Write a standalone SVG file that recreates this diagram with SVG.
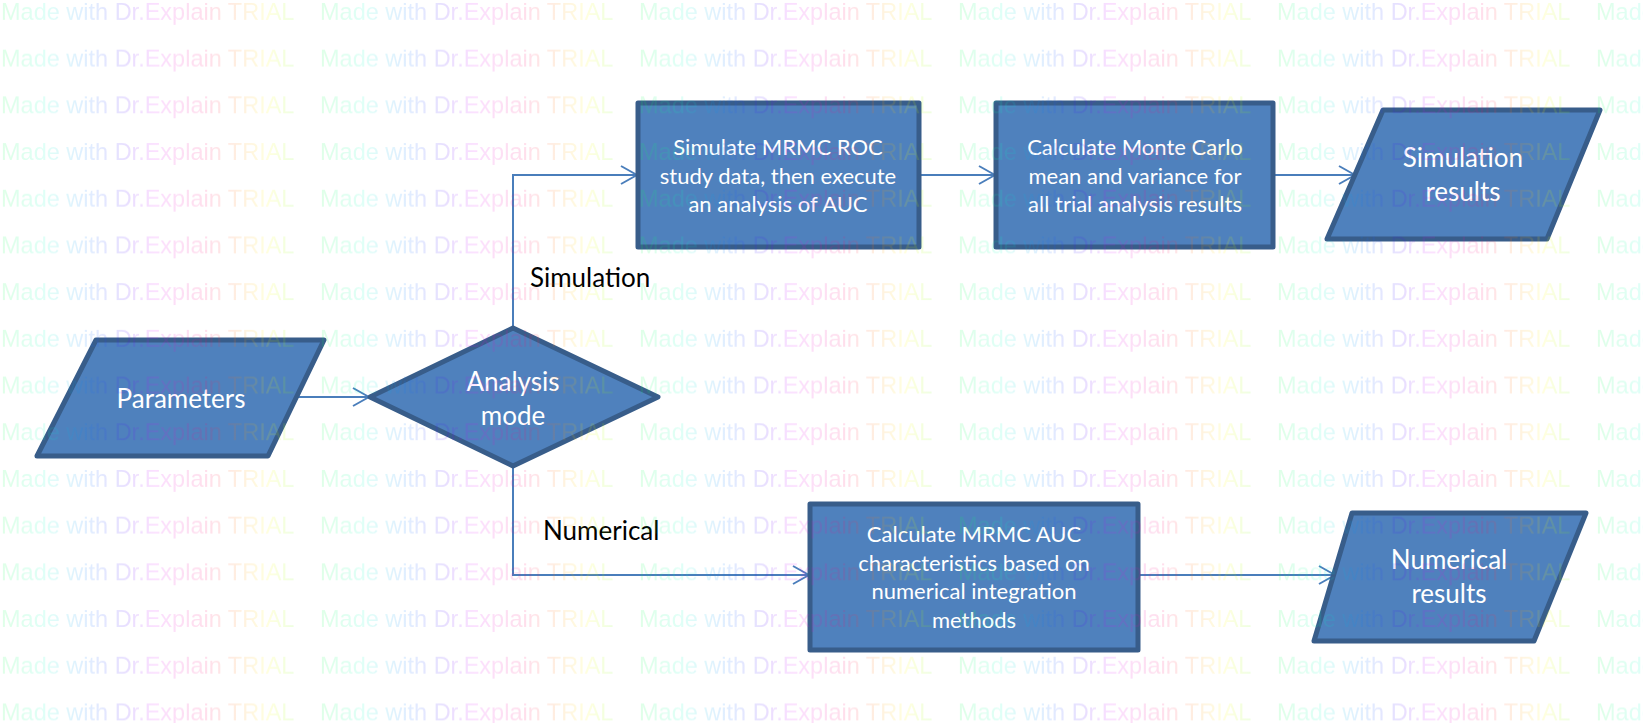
<svg xmlns="http://www.w3.org/2000/svg" width="1643" height="723" viewBox="0 0 1643 723">
<defs>
<style>
.node{fill:#4F81BD;stroke:#385D8A;stroke-width:5;stroke-linejoin:round}
.lbl{font-family:Lato,"Liberation Sans",sans-serif;fill:#FFFFFF;text-anchor:middle}
.big{font-size:26px}
.small{font-size:22px}
.edge{fill:none;stroke:#4A7EBB;stroke-width:2}
.elbl{font-family:Lato,"Liberation Sans",sans-serif;font-size:26px;fill:#000000}
.wm{font-family:"Liberation Sans",Arial,sans-serif;font-size:23.5px;fill-opacity:0.125}
</style>
<marker id="arr" viewBox="0 0 18 20" refX="17" refY="10" markerWidth="18" markerHeight="20" markerUnits="userSpaceOnUse" orient="auto">
<path d="M1,1 L17,10 L1,19" fill="none" stroke="#4A7EBB" stroke-width="2"/>
</marker>
<linearGradient id="rb" gradientUnits="userSpaceOnUse" x1="0" y1="0" x2="298" y2="0">
<stop offset="0" stop-color="#00FF40"/>
<stop offset="0.15" stop-color="#00FFC0"/>
<stop offset="0.28" stop-color="#0080FF"/>
<stop offset="0.42" stop-color="#4000FF"/>
<stop offset="0.52" stop-color="#E000FF"/>
<stop offset="0.7" stop-color="#FF0060"/>
<stop offset="0.8" stop-color="#FF8000"/>
<stop offset="0.9" stop-color="#FFFF00"/>
<stop offset="1" stop-color="#60FF00"/>
</linearGradient>
<pattern id="wmp" patternUnits="userSpaceOnUse" x="0" y="0" width="319" height="46.7">
<text class="wm" x="1" y="20" fill="url(#rb)">Made with Dr.Explain TRIAL</text>
</pattern>
</defs>
<rect x="0" y="0" width="1643" height="723" fill="#FFFFFF"/>

<g id="connectors">
<line class="edge" x1="297" y1="397" x2="369" y2="397" marker-end="url(#arr)"/>
<path class="edge" d="M513,328 V175 H637" marker-end="url(#arr)"/>
<path class="edge" d="M513,466 V575 H809" marker-end="url(#arr)"/>
<line class="edge" x1="919" y1="175" x2="995" y2="175" marker-end="url(#arr)"/>
<line class="edge" x1="1273" y1="175" x2="1355" y2="175" marker-end="url(#arr)"/>
<line class="edge" x1="1138" y1="575" x2="1335" y2="575" marker-end="url(#arr)"/>
<text class="elbl" x="530" y="287">Simulation</text>
<text class="elbl" x="543" y="540">Numerical</text>
</g>

<g id="parameters">
<polygon class="node" points="96,340 324,340 268,456 37,456"/>
<text class="lbl big" x="181" y="408">Parameters</text>
</g>

<g id="analysis-mode">
<polygon class="node" points="370,397 513,328 658,397 513,466"/>
<text class="lbl big" x="513" y="391">Analysis</text>
<text class="lbl big" x="513" y="425">mode</text>
</g>

<g id="simulate">
<rect class="node" x="638" y="103" width="281" height="144"/>
<text class="lbl small" x="778" y="155">Simulate MRMC ROC</text>
<text class="lbl small" x="778" y="183.5">study data, then execute</text>
<text class="lbl small" x="778" y="212">an analysis of AUC</text>
</g>

<g id="monte-carlo">
<rect class="node" x="996" y="103" width="277" height="144"/>
<text class="lbl small" x="1135" y="155">Calculate Monte Carlo</text>
<text class="lbl small" x="1135" y="183.5">mean and variance for</text>
<text class="lbl small" x="1135" y="212">all trial analysis results</text>
</g>

<g id="simulation-results">
<polygon class="node" points="1383,110 1600,110 1547,239 1327,239"/>
<text class="lbl big" x="1463" y="167">Simulation</text>
<text class="lbl big" x="1463" y="201">results</text>
</g>

<g id="numerical-calc">
<rect class="node" x="810" y="504" width="328" height="146"/>
<text class="lbl small" x="974" y="542">Calculate MRMC AUC</text>
<text class="lbl small" x="974" y="570.5">characteristics based on</text>
<text class="lbl small" x="974" y="599">numerical integration</text>
<text class="lbl small" x="974" y="627.5">methods</text>
</g>

<g id="numerical-results">
<polygon class="node" points="1352,513 1586,513 1534,641 1314,641"/>
<text class="lbl big" x="1449" y="569">Numerical</text>
<text class="lbl big" x="1449" y="603">results</text>
</g>

<rect id="watermark" x="0" y="0" width="1643" height="723" fill="url(#wmp)"/>
</svg>
